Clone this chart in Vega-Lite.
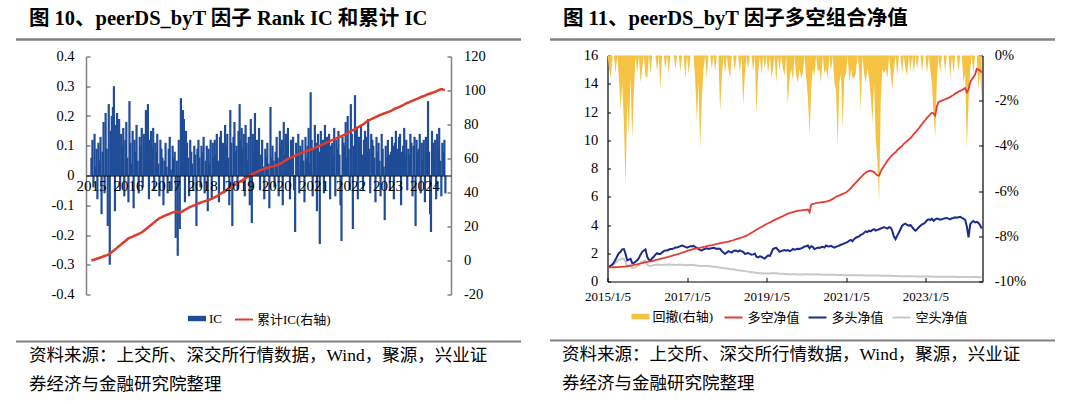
{
"$schema": "https://vega.github.io/schema/vega-lite/v6.json",
"background": "#ffffff",
"padding": {"left": 14, "top": 8.5, "right": 0, "bottom": 0},
"config": {"view": {"stroke": null}, "axis": {"grid": false, "labelFont": "Liberation Serif", "titleFont": "Liberation Serif", "labelOverlap": false}},
"datasets": {
"ic": [
{"d":"2015/1/5","v":0.06},{"d":"2015/1/15","v":0.12},{"d":"2015/1/25","v":-0.04},
{"d":"2015/2/5","v":0.14},{"d":"2015/2/15","v":0.03},{"d":"2015/2/25","v":0.09},
{"d":"2015/3/5","v":-0.08},{"d":"2015/3/15","v":0.11},{"d":"2015/3/25","v":0.05},
{"d":"2015/4/5","v":0.13},{"d":"2015/4/15","v":-0.13},{"d":"2015/4/25","v":0.08},
{"d":"2015/5/5","v":0.18},{"d":"2015/5/15","v":-0.06},{"d":"2015/5/25","v":0.21},
{"d":"2015/6/5","v":0.09},{"d":"2015/6/15","v":-0.17},{"d":"2015/6/25","v":0.24},
{"d":"2015/7/5","v":-0.30},{"d":"2015/7/15","v":0.15},{"d":"2015/7/25","v":0.2},
{"d":"2015/8/5","v":0.23},{"d":"2015/8/15","v":0.30},{"d":"2015/8/25","v":-0.12},
{"d":"2015/9/5","v":0.17},{"d":"2015/9/15","v":0.21},{"d":"2015/9/25","v":0.08},
{"d":"2015/10/5","v":0.19},{"d":"2015/10/15","v":-0.05},{"d":"2015/10/25","v":0.14},
{"d":"2015/11/5","v":0.10},{"d":"2015/11/15","v":0.16},{"d":"2015/11/25","v":-0.07},
{"d":"2015/12/5","v":0.12},{"d":"2015/12/15","v":0.18},{"d":"2015/12/25","v":0.06},
{"d":"2016/1/5","v":-0.09},{"d":"2016/1/15","v":0.25},{"d":"2016/1/25","v":0.11},
{"d":"2016/2/5","v":0.04},{"d":"2016/2/15","v":0.15},{"d":"2016/2/25","v":-0.11},
{"d":"2016/3/5","v":0.12},{"d":"2016/3/15","v":0.08},{"d":"2016/3/25","v":0.17},
{"d":"2016/4/5","v":0.05},{"d":"2016/4/15","v":-0.06},{"d":"2016/4/25","v":0.13},
{"d":"2016/5/5","v":0.10},{"d":"2016/5/15","v":0.16},{"d":"2016/5/25","v":-0.04},
{"d":"2016/6/5","v":0.14},{"d":"2016/6/15","v":0.07},{"d":"2016/6/25","v":0.22},
{"d":"2016/7/5","v":0.18},{"d":"2016/7/15","v":0.24},{"d":"2016/7/25","v":-0.08},
{"d":"2016/8/5","v":0.12},{"d":"2016/8/15","v":0.15},{"d":"2016/8/25","v":0.09},
{"d":"2016/9/5","v":0.16},{"d":"2016/9/15","v":-0.05},{"d":"2016/9/25","v":0.11},
{"d":"2016/10/5","v":0.08},{"d":"2016/10/15","v":0.14},{"d":"2016/10/25","v":0.04},
{"d":"2016/11/5","v":-0.07},{"d":"2016/11/15","v":0.12},{"d":"2016/11/25","v":0.09},
{"d":"2016/12/5","v":0.06},{"d":"2016/12/15","v":-0.1},{"d":"2016/12/25","v":0.05},
{"d":"2017/1/5","v":0.11},{"d":"2017/1/15","v":0.03},{"d":"2017/1/25","v":-0.06},
{"d":"2017/2/5","v":0.09},{"d":"2017/2/15","v":0.13},{"d":"2017/2/25","v":0.02},
{"d":"2017/3/5","v":-0.05},{"d":"2017/3/15","v":0.10},{"d":"2017/3/25","v":0.06},
{"d":"2017/4/5","v":0.08},{"d":"2017/4/15","v":-0.21},{"d":"2017/4/25","v":0.05},
{"d":"2017/5/5","v":-0.27},{"d":"2017/5/15","v":0.12},{"d":"2017/5/25","v":-0.18},
{"d":"2017/6/5","v":0.26},{"d":"2017/6/15","v":0.17},{"d":"2017/6/25","v":0.22},
{"d":"2017/7/5","v":0.19},{"d":"2017/7/15","v":-0.09},{"d":"2017/7/25","v":0.15},
{"d":"2017/8/5","v":0.11},{"d":"2017/8/15","v":0.06},{"d":"2017/8/25","v":-0.07},
{"d":"2017/9/5","v":0.12},{"d":"2017/9/15","v":0.08},{"d":"2017/9/25","v":0.04},
{"d":"2017/10/5","v":-0.05},{"d":"2017/10/15","v":0.1},{"d":"2017/10/25","v":0.07},
{"d":"2017/11/5","v":-0.17},{"d":"2017/11/15","v":0.09},{"d":"2017/11/25","v":0.12},
{"d":"2017/12/5","v":0.06},{"d":"2017/12/15","v":-0.04},{"d":"2017/12/25","v":0.1},
{"d":"2018/1/5","v":0.08},{"d":"2018/1/15","v":0.13},{"d":"2018/1/25","v":-0.06},
{"d":"2018/2/5","v":0.05},{"d":"2018/2/15","v":0.1},{"d":"2018/2/25","v":-0.12},
{"d":"2018/3/5","v":0.09},{"d":"2018/3/15","v":0.04},{"d":"2018/3/25","v":0.12},
{"d":"2018/4/5","v":-0.08},{"d":"2018/4/15","v":0.11},{"d":"2018/4/25","v":0.06},
{"d":"2018/5/5","v":0.12},{"d":"2018/5/15","v":0.07},{"d":"2018/5/25","v":0.14},
{"d":"2018/6/5","v":0.05},{"d":"2018/6/15","v":-0.09},{"d":"2018/6/25","v":0.13},
{"d":"2018/7/5","v":0.15},{"d":"2018/7/15","v":0.09},{"d":"2018/7/25","v":0.11},
{"d":"2018/8/5","v":-0.06},{"d":"2018/8/15","v":0.17},{"d":"2018/8/25","v":0.1},
{"d":"2018/9/5","v":0.14},{"d":"2018/9/15","v":0.06},{"d":"2018/9/25","v":-0.1},
{"d":"2018/10/5","v":0.22},{"d":"2018/10/15","v":0.11},{"d":"2018/10/25","v":-0.17},
{"d":"2018/11/5","v":0.13},{"d":"2018/11/15","v":0.18},{"d":"2018/11/25","v":0.08},
{"d":"2018/12/5","v":0.1},{"d":"2018/12/15","v":-0.05},{"d":"2018/12/25","v":0.15},
{"d":"2019/1/5","v":0.24},{"d":"2019/1/15","v":0.12},{"d":"2019/1/25","v":0.16},
{"d":"2019/2/5","v":0.09},{"d":"2019/2/15","v":0.14},{"d":"2019/2/25","v":-0.07},
{"d":"2019/3/5","v":0.17},{"d":"2019/3/15","v":0.11},{"d":"2019/3/25","v":0.05},
{"d":"2019/4/5","v":0.13},{"d":"2019/4/15","v":-0.1},{"d":"2019/4/25","v":0.19},
{"d":"2019/5/5","v":-0.16},{"d":"2019/5/15","v":0.14},{"d":"2019/5/25","v":0.08},
{"d":"2019/6/5","v":0.21},{"d":"2019/6/15","v":0.07},{"d":"2019/6/25","v":0.12},
{"d":"2019/7/5","v":0.1},{"d":"2019/7/15","v":0.16},{"d":"2019/7/25","v":-0.05},
{"d":"2019/8/5","v":0.07},{"d":"2019/8/15","v":0.12},{"d":"2019/8/25","v":0.03},
{"d":"2019/9/5","v":-0.08},{"d":"2019/9/15","v":0.09},{"d":"2019/9/25","v":0.06},
{"d":"2019/10/5","v":0.11},{"d":"2019/10/15","v":0.04},{"d":"2019/10/25","v":-0.11},
{"d":"2019/11/5","v":0.23},{"d":"2019/11/15","v":0.06},{"d":"2019/11/25","v":0.1},
{"d":"2019/12/5","v":0.05},{"d":"2019/12/15","v":-0.04},{"d":"2019/12/25","v":0.08},
{"d":"2020/1/5","v":0.13},{"d":"2020/1/15","v":0.06},{"d":"2020/1/25","v":-0.07},
{"d":"2020/2/5","v":0.15},{"d":"2020/2/15","v":0.09},{"d":"2020/2/25","v":0.12},
{"d":"2020/3/5","v":-0.1},{"d":"2020/3/15","v":0.18},{"d":"2020/3/25","v":0.07},
{"d":"2020/4/5","v":0.14},{"d":"2020/4/15","v":0.1},{"d":"2020/4/25","v":0.16},
{"d":"2020/5/5","v":0.06},{"d":"2020/5/15","v":-0.08},{"d":"2020/5/25","v":0.12},
{"d":"2020/6/5","v":0.09},{"d":"2020/6/15","v":0.13},{"d":"2020/6/25","v":-0.05},
{"d":"2020/7/5","v":-0.19},{"d":"2020/7/15","v":0.11},{"d":"2020/7/25","v":0.07},
{"d":"2020/8/5","v":0.14},{"d":"2020/8/15","v":-0.06},{"d":"2020/8/25","v":0.1},
{"d":"2020/9/5","v":0.08},{"d":"2020/9/15","v":0.12},{"d":"2020/9/25","v":0.05},
{"d":"2020/10/5","v":-0.09},{"d":"2020/10/15","v":0.13},{"d":"2020/10/25","v":0.06},
{"d":"2020/11/5","v":0.1},{"d":"2020/11/15","v":0.16},{"d":"2020/11/25","v":0.04},
{"d":"2020/12/5","v":0.28},{"d":"2020/12/15","v":0.12},{"d":"2020/12/25","v":-0.07},
{"d":"2021/1/5","v":0.09},{"d":"2021/1/15","v":0.17},{"d":"2021/1/25","v":0.11},
{"d":"2021/2/5","v":-0.12},{"d":"2021/2/15","v":0.14},{"d":"2021/2/25","v":0.08},
{"d":"2021/3/5","v":-0.23},{"d":"2021/3/15","v":0.15},{"d":"2021/3/25","v":0.1},
{"d":"2021/4/5","v":0.12},{"d":"2021/4/15","v":-0.06},{"d":"2021/4/25","v":0.17},
{"d":"2021/5/5","v":0.09},{"d":"2021/5/15","v":0.13},{"d":"2021/5/25","v":0.05},
{"d":"2021/6/5","v":0.14},{"d":"2021/6/15","v":-0.08},{"d":"2021/6/25","v":0.1},
{"d":"2021/7/5","v":0.11},{"d":"2021/7/15","v":0.06},{"d":"2021/7/25","v":0.16},
{"d":"2021/8/5","v":-0.07},{"d":"2021/8/15","v":0.12},{"d":"2021/8/25","v":0.09},
{"d":"2021/9/5","v":0.15},{"d":"2021/9/15","v":0.07},{"d":"2021/9/25","v":-0.1},
{"d":"2021/10/5","v":-0.22},{"d":"2021/10/15","v":0.13},{"d":"2021/10/25","v":0.11},
{"d":"2021/11/5","v":0.1},{"d":"2021/11/15","v":0.18},{"d":"2021/11/25","v":0.06},
{"d":"2021/12/5","v":0.2},{"d":"2021/12/15","v":0.09},{"d":"2021/12/25","v":-0.05},
{"d":"2022/1/5","v":0.24},{"d":"2022/1/15","v":0.14},{"d":"2022/1/25","v":-0.18},
{"d":"2022/2/5","v":0.1},{"d":"2022/2/15","v":0.27},{"d":"2022/2/25","v":0.12},
{"d":"2022/3/5","v":0.16},{"d":"2022/3/15","v":-0.08},{"d":"2022/3/25","v":0.13},
{"d":"2022/4/5","v":0.11},{"d":"2022/4/15","v":0.17},{"d":"2022/4/25","v":0.07},
{"d":"2022/5/5","v":-0.05},{"d":"2022/5/15","v":0.12},{"d":"2022/5/25","v":0.15},
{"d":"2022/6/5","v":0.13},{"d":"2022/6/15","v":0.08},{"d":"2022/6/25","v":0.19},
{"d":"2022/7/5","v":0.09},{"d":"2022/7/15","v":-0.06},{"d":"2022/7/25","v":0.14},
{"d":"2022/8/5","v":0.12},{"d":"2022/8/15","v":0.1},{"d":"2022/8/25","v":0.06},
{"d":"2022/9/5","v":-0.09},{"d":"2022/9/15","v":0.13},{"d":"2022/9/25","v":0.08},
{"d":"2022/10/5","v":0.11},{"d":"2022/10/15","v":0.05},{"d":"2022/10/25","v":-0.07},
{"d":"2022/11/5","v":0.14},{"d":"2022/11/15","v":0.09},{"d":"2022/11/25","v":0.03},
{"d":"2022/12/5","v":-0.15},{"d":"2022/12/15","v":0.1},{"d":"2022/12/25","v":0.06},
{"d":"2023/1/5","v":0.12},{"d":"2023/1/15","v":0.07},{"d":"2023/1/25","v":-0.05},
{"d":"2023/2/5","v":0.08},{"d":"2023/2/15","v":0.13},{"d":"2023/2/25","v":0.1},
{"d":"2023/3/5","v":-0.08},{"d":"2023/3/15","v":0.11},{"d":"2023/3/25","v":0.15},
{"d":"2023/4/5","v":0.09},{"d":"2023/4/15","v":0.05},{"d":"2023/4/25","v":0.13},
{"d":"2023/5/5","v":0.14},{"d":"2023/5/15","v":-0.1},{"d":"2023/5/25","v":0.08},
{"d":"2023/6/5","v":0.1},{"d":"2023/6/15","v":0.16},{"d":"2023/6/25","v":0.06},
{"d":"2023/7/5","v":0.12},{"d":"2023/7/15","v":-0.05},{"d":"2023/7/25","v":0.09},
{"d":"2023/8/5","v":0.07},{"d":"2023/8/15","v":0.14},{"d":"2023/8/25","v":0.11},
{"d":"2023/9/5","v":-0.07},{"d":"2023/9/15","v":0.1},{"d":"2023/9/25","v":0.13},
{"d":"2023/10/5","v":-0.17},{"d":"2023/10/15","v":0.12},{"d":"2023/10/25","v":0.08},
{"d":"2023/11/5","v":0.09},{"d":"2023/11/15","v":0.14},{"d":"2023/11/25","v":-0.06},
{"d":"2023/12/5","v":0.11},{"d":"2023/12/15","v":0.05},{"d":"2023/12/25","v":0.12},
{"d":"2024/1/5","v":-0.09},{"d":"2024/1/15","v":0.13},{"d":"2024/1/25","v":0.1},
{"d":"2024/2/5","v":0.25},{"d":"2024/2/15","v":0.08},{"d":"2024/2/25","v":-0.13},
{"d":"2024/3/5","v":-0.19},{"d":"2024/3/15","v":0.15},{"d":"2024/3/25","v":0.11},
{"d":"2024/4/5","v":0.06},{"d":"2024/4/15","v":0.12},{"d":"2024/4/25","v":-0.08},
{"d":"2024/5/5","v":0.14},{"d":"2024/5/15","v":0.09},{"d":"2024/5/25","v":0.16},
{"d":"2024/6/5","v":0.05},{"d":"2024/6/15","v":-0.07},{"d":"2024/6/25","v":0.11},
{"d":"2024/7/5","v":0.08},{"d":"2024/7/15","v":0.12},{"d":"2024/7/25","v":-0.06}
],
"nav": [
{"d":"2015/1/5","c":0,"ls":1.00,"lo":1.00,"sh":1.00,"dd":0},
{"d":"2015/1/20","c":0.3,"ls":1.00,"lo":1.06,"sh":1.04,"dd":-0.006},
{"d":"2015/2/5","c":0.6,"ls":1.00,"lo":1.12,"sh":1.08,"dd":-0.01},
{"d":"2015/2/20","c":0.9,"ls":1.00,"lo":1.22,"sh":1.15,"dd":0},
{"d":"2015/3/5","c":1.2,"ls":1.01,"lo":1.35,"sh":1.22,"dd":0},
{"d":"2015/3/20","c":1.5,"ls":1.01,"lo":1.55,"sh":1.32,"dd":-0.008},
{"d":"2015/4/5","c":1.8,"ls":1.02,"lo":1.80,"sh":1.45,"dd":0},
{"d":"2015/4/20","c":2.1,"ls":1.02,"lo":2.00,"sh":1.55,"dd":-0.01},
{"d":"2015/5/5","c":2.5,"ls":1.03,"lo":2.10,"sh":1.55,"dd":-0.024},
{"d":"2015/5/20","c":2.8,"ls":1.04,"lo":2.28,"sh":1.62,"dd":-0.012},
{"d":"2015/6/5","c":3.0,"ls":1.05,"lo":2.30,"sh":1.60,"dd":-0.03},
{"d":"2015/6/20","c":3.4,"ls":1.06,"lo":1.95,"sh":1.35,"dd":-0.058},
{"d":"2015/7/5","c":4.0,"ls":1.08,"lo":1.50,"sh":1.10,"dd":-0.02},
{"d":"2015/7/20","c":4.7,"ls":1.10,"lo":1.55,"sh":1.12,"dd":-0.035},
{"d":"2015/8/5","c":5.5,"ls":1.12,"lo":1.60,"sh":1.15,"dd":-0.01},
{"d":"2015/8/20","c":6.2,"ls":1.14,"lo":1.30,"sh":0.98,"dd":-0.037},
{"d":"2015/9/5","c":7.0,"ls":1.17,"lo":1.32,"sh":0.98,"dd":-0.015},
{"d":"2015/9/20","c":7.7,"ls":1.19,"lo":1.40,"sh":1.02,"dd":0},
{"d":"2015/10/5","c":8.5,"ls":1.22,"lo":1.50,"sh":1.08,"dd":-0.008},
{"d":"2015/10/20","c":9.2,"ls":1.25,"lo":1.65,"sh":1.15,"dd":0},
{"d":"2015/11/5","c":10.0,"ls":1.28,"lo":1.90,"sh":1.30,"dd":-0.012},
{"d":"2015/11/20","c":10.7,"ls":1.30,"lo":2.10,"sh":1.40,"dd":-0.006},
{"d":"2015/12/5","c":11.5,"ls":1.33,"lo":2.20,"sh":1.45,"dd":0},
{"d":"2015/12/20","c":12.2,"ls":1.36,"lo":2.28,"sh":1.48,"dd":-0.009},
{"d":"2016/1/5","c":13.0,"ls":1.39,"lo":1.75,"sh":1.20,"dd":-0.01},
{"d":"2016/1/20","c":13.4,"ls":1.41,"lo":1.55,"sh":1.12,"dd":0},
{"d":"2016/2/5","c":13.8,"ls":1.43,"lo":1.50,"sh":1.10,"dd":-0.008},
{"d":"2016/2/20","c":14.2,"ls":1.45,"lo":1.65,"sh":1.14,"dd":0},
{"d":"2016/3/5","c":14.6,"ls":1.48,"lo":1.75,"sh":1.16,"dd":0},
{"d":"2016/3/20","c":15.0,"ls":1.51,"lo":1.90,"sh":1.18,"dd":0},
{"d":"2016/4/5","c":15.4,"ls":1.54,"lo":2.00,"sh":1.20,"dd":-0.007},
{"d":"2016/4/20","c":15.8,"ls":1.57,"lo":1.95,"sh":1.18,"dd":0},
{"d":"2016/5/5","c":16.2,"ls":1.60,"lo":1.95,"sh":1.16,"dd":-0.015},
{"d":"2016/5/20","c":16.8,"ls":1.63,"lo":2.05,"sh":1.17,"dd":0},
{"d":"2016/6/5","c":17.5,"ls":1.66,"lo":2.15,"sh":1.18,"dd":0},
{"d":"2016/6/20","c":18.2,"ls":1.69,"lo":2.20,"sh":1.18,"dd":-0.006},
{"d":"2016/7/5","c":19.0,"ls":1.72,"lo":2.20,"sh":1.19,"dd":0},
{"d":"2016/7/20","c":19.7,"ls":1.75,"lo":2.25,"sh":1.20,"dd":-0.008},
{"d":"2016/8/5","c":20.5,"ls":1.79,"lo":2.30,"sh":1.20,"dd":0},
{"d":"2016/8/20","c":21.2,"ls":1.82,"lo":2.30,"sh":1.19,"dd":0},
{"d":"2016/9/5","c":22.0,"ls":1.86,"lo":2.35,"sh":1.18,"dd":0},
{"d":"2016/9/20","c":22.7,"ls":1.89,"lo":2.40,"sh":1.18,"dd":-0.006},
{"d":"2016/10/5","c":23.5,"ls":1.93,"lo":2.40,"sh":1.17,"dd":0},
{"d":"2016/10/20","c":24.1,"ls":1.96,"lo":2.45,"sh":1.18,"dd":0},
{"d":"2016/11/5","c":24.8,"ls":2.00,"lo":2.50,"sh":1.18,"dd":-0.007},
{"d":"2016/11/20","c":25.2,"ls":2.04,"lo":2.55,"sh":1.19,"dd":0},
{"d":"2016/12/5","c":25.7,"ls":2.08,"lo":2.50,"sh":1.17,"dd":0},
{"d":"2016/12/20","c":26.1,"ls":2.12,"lo":2.45,"sh":1.15,"dd":-0.01},
{"d":"2017/1/5","c":26.5,"ls":2.17,"lo":2.40,"sh":1.16,"dd":0},
{"d":"2017/1/20","c":26.9,"ls":2.20,"lo":2.45,"sh":1.17,"dd":-0.008},
{"d":"2017/2/5","c":27.3,"ls":2.24,"lo":2.50,"sh":1.18,"dd":0},
{"d":"2017/2/20","c":27.7,"ls":2.27,"lo":2.48,"sh":1.17,"dd":0},
{"d":"2017/3/5","c":28.0,"ls":2.30,"lo":2.52,"sh":1.16,"dd":0},
{"d":"2017/3/20","c":28.3,"ls":2.33,"lo":2.45,"sh":1.15,"dd":-0.009},
{"d":"2017/4/5","c":28.6,"ls":2.35,"lo":2.38,"sh":1.14,"dd":-0.029},
{"d":"2017/4/20","c":28.7,"ls":2.37,"lo":2.30,"sh":1.12,"dd":-0.012},
{"d":"2017/5/5","c":28.6,"ls":2.40,"lo":2.22,"sh":1.10,"dd":-0.041},
{"d":"2017/5/20","c":28.5,"ls":2.42,"lo":2.20,"sh":1.09,"dd":-0.02},
{"d":"2017/6/5","c":28.4,"ls":2.45,"lo":2.28,"sh":1.10,"dd":-0.006},
{"d":"2017/6/20","c":28.9,"ls":2.47,"lo":2.32,"sh":1.11,"dd":0},
{"d":"2017/7/5","c":29.5,"ls":2.50,"lo":2.35,"sh":1.10,"dd":-0.01},
{"d":"2017/7/20","c":30.0,"ls":2.52,"lo":2.30,"sh":1.09,"dd":0},
{"d":"2017/8/5","c":30.5,"ls":2.55,"lo":2.33,"sh":1.08,"dd":0},
{"d":"2017/8/20","c":31.0,"ls":2.57,"lo":2.36,"sh":1.06,"dd":-0.006},
{"d":"2017/9/5","c":31.5,"ls":2.60,"lo":2.38,"sh":1.05,"dd":0},
{"d":"2017/9/20","c":31.9,"ls":2.63,"lo":2.35,"sh":1.04,"dd":-0.007},
{"d":"2017/10/5","c":32.3,"ls":2.66,"lo":2.30,"sh":1.02,"dd":0},
{"d":"2017/10/20","c":32.6,"ls":2.68,"lo":2.33,"sh":1.00,"dd":0},
{"d":"2017/11/5","c":33.0,"ls":2.71,"lo":2.30,"sh":0.98,"dd":-0.025},
{"d":"2017/11/20","c":33.4,"ls":2.73,"lo":2.15,"sh":0.96,"dd":-0.01},
{"d":"2017/12/5","c":33.8,"ls":2.76,"lo":2.05,"sh":0.95,"dd":0},
{"d":"2017/12/20","c":34.1,"ls":2.78,"lo":1.95,"sh":0.93,"dd":-0.008},
{"d":"2018/1/5","c":34.5,"ls":2.80,"lo":2.05,"sh":0.92,"dd":0},
{"d":"2018/1/20","c":34.8,"ls":2.83,"lo":2.15,"sh":0.90,"dd":-0.006},
{"d":"2018/2/5","c":35.0,"ls":2.86,"lo":2.10,"sh":0.88,"dd":-0.01},
{"d":"2018/2/20","c":35.3,"ls":2.89,"lo":2.05,"sh":0.87,"dd":0},
{"d":"2018/3/5","c":35.5,"ls":2.92,"lo":2.15,"sh":0.86,"dd":0},
{"d":"2018/3/20","c":35.9,"ls":2.96,"lo":2.20,"sh":0.84,"dd":-0.007},
{"d":"2018/4/5","c":36.3,"ls":3.00,"lo":2.18,"sh":0.82,"dd":0},
{"d":"2018/4/20","c":36.8,"ls":3.04,"lo":2.12,"sh":0.80,"dd":0},
{"d":"2018/5/5","c":37.2,"ls":3.08,"lo":2.20,"sh":0.78,"dd":-0.008},
{"d":"2018/5/20","c":37.7,"ls":3.11,"lo":2.15,"sh":0.77,"dd":0},
{"d":"2018/6/5","c":38.2,"ls":3.15,"lo":2.10,"sh":0.75,"dd":-0.022},
{"d":"2018/6/20","c":38.8,"ls":3.20,"lo":1.95,"sh":0.73,"dd":-0.009},
{"d":"2018/7/5","c":39.4,"ls":3.25,"lo":1.98,"sh":0.72,"dd":0},
{"d":"2018/7/20","c":40.0,"ls":3.31,"lo":2.02,"sh":0.70,"dd":-0.006},
{"d":"2018/8/5","c":40.5,"ls":3.38,"lo":1.95,"sh":0.68,"dd":0},
{"d":"2018/8/20","c":41.0,"ls":3.45,"lo":1.90,"sh":0.66,"dd":0},
{"d":"2018/9/5","c":41.6,"ls":3.52,"lo":1.92,"sh":0.65,"dd":-0.007},
{"d":"2018/9/20","c":42.2,"ls":3.59,"lo":1.98,"sh":0.63,"dd":0},
{"d":"2018/10/5","c":42.8,"ls":3.66,"lo":1.75,"sh":0.61,"dd":-0.026},
{"d":"2018/10/20","c":43.4,"ls":3.73,"lo":1.70,"sh":0.60,"dd":-0.008},
{"d":"2018/11/5","c":44.0,"ls":3.80,"lo":1.78,"sh":0.59,"dd":0},
{"d":"2018/11/20","c":44.6,"ls":3.86,"lo":1.75,"sh":0.58,"dd":-0.009},
{"d":"2018/12/5","c":45.2,"ls":3.93,"lo":1.68,"sh":0.57,"dd":0},
{"d":"2018/12/20","c":45.8,"ls":4.00,"lo":1.62,"sh":0.56,"dd":-0.006},
{"d":"2019/1/5","c":46.3,"ls":4.07,"lo":1.75,"sh":0.56,"dd":0},
{"d":"2019/1/20","c":46.8,"ls":4.12,"lo":1.85,"sh":0.57,"dd":-0.008},
{"d":"2019/2/5","c":47.4,"ls":4.18,"lo":1.80,"sh":0.56,"dd":0},
{"d":"2019/2/20","c":47.9,"ls":4.24,"lo":2.05,"sh":0.58,"dd":-0.01},
{"d":"2019/3/5","c":48.5,"ls":4.30,"lo":2.30,"sh":0.60,"dd":-0.006},
{"d":"2019/3/20","c":49.0,"ls":4.36,"lo":2.35,"sh":0.59,"dd":0},
{"d":"2019/4/5","c":49.6,"ls":4.42,"lo":2.38,"sh":0.58,"dd":-0.012},
{"d":"2019/4/20","c":50.1,"ls":4.47,"lo":2.25,"sh":0.56,"dd":0},
{"d":"2019/5/5","c":50.6,"ls":4.52,"lo":2.10,"sh":0.55,"dd":-0.007},
{"d":"2019/5/20","c":51.1,"ls":4.57,"lo":2.15,"sh":0.54,"dd":0},
{"d":"2019/6/5","c":51.6,"ls":4.63,"lo":2.20,"sh":0.54,"dd":-0.006},
{"d":"2019/6/20","c":52.0,"ls":4.69,"lo":2.22,"sh":0.53,"dd":-0.009},
{"d":"2019/7/5","c":52.5,"ls":4.75,"lo":2.18,"sh":0.53,"dd":0},
{"d":"2019/7/20","c":52.9,"ls":4.80,"lo":2.22,"sh":0.52,"dd":-0.022},
{"d":"2019/8/5","c":53.3,"ls":4.84,"lo":2.15,"sh":0.52,"dd":-0.01},
{"d":"2019/8/20","c":53.6,"ls":4.88,"lo":2.20,"sh":0.51,"dd":-0.006},
{"d":"2019/9/5","c":54.0,"ls":4.92,"lo":2.30,"sh":0.52,"dd":-0.011},
{"d":"2019/9/20","c":54.3,"ls":4.95,"lo":2.25,"sh":0.51,"dd":0},
{"d":"2019/10/5","c":54.6,"ls":4.98,"lo":2.28,"sh":0.51,"dd":-0.009},
{"d":"2019/10/20","c":54.8,"ls":5.00,"lo":2.32,"sh":0.50,"dd":-0.012},
{"d":"2019/11/5","c":55.0,"ls":5.02,"lo":2.30,"sh":0.50,"dd":-0.006},
{"d":"2019/11/20","c":55.2,"ls":5.04,"lo":2.35,"sh":0.50,"dd":-0.01},
{"d":"2019/12/5","c":55.5,"ls":5.06,"lo":2.40,"sh":0.51,"dd":-0.008},
{"d":"2019/12/20","c":55.7,"ls":5.07,"lo":2.48,"sh":0.51,"dd":0},
{"d":"2020/1/5","c":56.0,"ls":5.08,"lo":2.50,"sh":0.51,"dd":-0.01},
{"d":"2020/1/20","c":56.4,"ls":5.10,"lo":2.55,"sh":0.52,"dd":-0.018},
{"d":"2020/2/5","c":56.8,"ls":4.90,"lo":2.35,"sh":0.50,"dd":-0.035},
{"d":"2020/2/20","c":57.3,"ls":5.45,"lo":2.50,"sh":0.51,"dd":-0.015},
{"d":"2020/3/5","c":57.8,"ls":5.50,"lo":2.45,"sh":0.50,"dd":-0.006},
{"d":"2020/3/20","c":58.4,"ls":5.52,"lo":2.30,"sh":0.49,"dd":-0.009},
{"d":"2020/4/5","c":59.0,"ls":5.55,"lo":2.35,"sh":0.49,"dd":0},
{"d":"2020/4/20","c":59.5,"ls":5.56,"lo":2.40,"sh":0.50,"dd":-0.007},
{"d":"2020/5/5","c":60.0,"ls":5.58,"lo":2.38,"sh":0.49,"dd":-0.006},
{"d":"2020/5/20","c":60.4,"ls":5.60,"lo":2.42,"sh":0.49,"dd":-0.012},
{"d":"2020/6/5","c":60.8,"ls":5.62,"lo":2.45,"sh":0.48,"dd":0},
{"d":"2020/6/20","c":61.2,"ls":5.64,"lo":2.40,"sh":0.48,"dd":-0.008},
{"d":"2020/7/5","c":61.7,"ls":5.66,"lo":2.55,"sh":0.49,"dd":-0.006},
{"d":"2020/7/20","c":62.1,"ls":5.69,"lo":2.50,"sh":0.48,"dd":-0.01},
{"d":"2020/8/5","c":62.5,"ls":5.72,"lo":2.48,"sh":0.48,"dd":0},
{"d":"2020/8/20","c":62.9,"ls":5.78,"lo":2.52,"sh":0.47,"dd":-0.007},
{"d":"2020/9/5","c":63.3,"ls":5.85,"lo":2.45,"sh":0.47,"dd":0},
{"d":"2020/9/20","c":63.6,"ls":5.92,"lo":2.40,"sh":0.47,"dd":-0.012},
{"d":"2020/10/5","c":64.0,"ls":6.00,"lo":2.45,"sh":0.47,"dd":-0.015},
{"d":"2020/10/20","c":64.3,"ls":6.05,"lo":2.50,"sh":0.46,"dd":-0.04},
{"d":"2020/11/5","c":64.7,"ls":6.10,"lo":2.55,"sh":0.46,"dd":-0.012},
{"d":"2020/11/20","c":65.0,"ls":6.15,"lo":2.60,"sh":0.46,"dd":-0.008},
{"d":"2020/12/5","c":65.3,"ls":6.20,"lo":2.65,"sh":0.46,"dd":-0.032},
{"d":"2020/12/20","c":65.6,"ls":6.25,"lo":2.70,"sh":0.45,"dd":-0.01},
{"d":"2021/1/5","c":66.0,"ls":6.30,"lo":2.75,"sh":0.45,"dd":-0.008},
{"d":"2021/1/20","c":66.4,"ls":6.40,"lo":2.80,"sh":0.45,"dd":0},
{"d":"2021/2/5","c":66.8,"ls":6.50,"lo":2.90,"sh":0.44,"dd":-0.012},
{"d":"2021/2/20","c":67.2,"ls":6.62,"lo":2.95,"sh":0.44,"dd":-0.006},
{"d":"2021/3/5","c":67.5,"ls":6.75,"lo":2.85,"sh":0.44,"dd":-0.01},
{"d":"2021/3/20","c":67.9,"ls":6.88,"lo":3.00,"sh":0.45,"dd":-0.01},
{"d":"2021/4/5","c":68.3,"ls":7.00,"lo":3.10,"sh":0.45,"dd":-0.008},
{"d":"2021/4/20","c":68.8,"ls":7.12,"lo":3.15,"sh":0.44,"dd":0},
{"d":"2021/5/5","c":69.2,"ls":7.25,"lo":3.20,"sh":0.44,"dd":-0.006},
{"d":"2021/5/20","c":69.6,"ls":7.38,"lo":3.30,"sh":0.44,"dd":-0.024},
{"d":"2021/6/5","c":70.0,"ls":7.50,"lo":3.35,"sh":0.44,"dd":0},
{"d":"2021/6/20","c":70.4,"ls":7.62,"lo":3.45,"sh":0.43,"dd":-0.008},
{"d":"2021/7/5","c":70.8,"ls":7.70,"lo":3.55,"sh":0.43,"dd":-0.012},
{"d":"2021/7/20","c":71.2,"ls":7.78,"lo":3.50,"sh":0.43,"dd":-0.006},
{"d":"2021/8/5","c":71.6,"ls":7.82,"lo":3.60,"sh":0.43,"dd":-0.01},
{"d":"2021/8/20","c":72.0,"ls":7.85,"lo":3.55,"sh":0.42,"dd":-0.018},
{"d":"2021/9/5","c":72.4,"ls":7.80,"lo":3.65,"sh":0.42,"dd":-0.03},
{"d":"2021/9/20","c":72.8,"ls":7.75,"lo":3.70,"sh":0.42,"dd":-0.012},
{"d":"2021/10/5","c":73.2,"ls":7.60,"lo":3.60,"sh":0.42,"dd":-0.037},
{"d":"2021/10/20","c":73.6,"ls":7.52,"lo":3.65,"sh":0.42,"dd":-0.046},
{"d":"2021/11/5","c":74.0,"ls":7.50,"lo":3.70,"sh":0.42,"dd":-0.065},
{"d":"2021/11/20","c":74.5,"ls":7.80,"lo":3.75,"sh":0.41,"dd":-0.02},
{"d":"2021/12/5","c":75.0,"ls":8.00,"lo":3.80,"sh":0.41,"dd":-0.006},
{"d":"2021/12/20","c":75.5,"ls":8.20,"lo":3.85,"sh":0.41,"dd":-0.008},
{"d":"2022/1/5","c":76.0,"ls":8.35,"lo":3.80,"sh":0.41,"dd":-0.006},
{"d":"2022/1/20","c":76.5,"ls":8.55,"lo":3.75,"sh":0.40,"dd":-0.01},
{"d":"2022/2/5","c":77.0,"ls":8.70,"lo":3.85,"sh":0.40,"dd":0},
{"d":"2022/2/20","c":77.5,"ls":8.85,"lo":3.80,"sh":0.40,"dd":-0.008},
{"d":"2022/3/5","c":78.0,"ls":8.95,"lo":3.60,"sh":0.39,"dd":-0.015},
{"d":"2022/3/20","c":78.5,"ls":9.05,"lo":3.20,"sh":0.39,"dd":-0.007},
{"d":"2022/4/5","c":79.0,"ls":9.15,"lo":3.00,"sh":0.39,"dd":0},
{"d":"2022/4/20","c":79.5,"ls":9.30,"lo":3.25,"sh":0.39,"dd":-0.009},
{"d":"2022/5/5","c":80.0,"ls":9.40,"lo":3.45,"sh":0.39,"dd":0},
{"d":"2022/5/20","c":80.7,"ls":9.50,"lo":3.70,"sh":0.38,"dd":0},
{"d":"2022/6/5","c":81.5,"ls":9.60,"lo":3.95,"sh":0.38,"dd":-0.008},
{"d":"2022/6/20","c":82.1,"ls":9.75,"lo":4.05,"sh":0.38,"dd":0},
{"d":"2022/7/5","c":82.6,"ls":9.85,"lo":4.10,"sh":0.38,"dd":-0.006},
{"d":"2022/7/20","c":83.0,"ls":9.95,"lo":4.00,"sh":0.37,"dd":-0.009},
{"d":"2022/8/5","c":83.5,"ls":10.05,"lo":3.95,"sh":0.37,"dd":0},
{"d":"2022/8/20","c":83.9,"ls":10.15,"lo":4.00,"sh":0.37,"dd":-0.007},
{"d":"2022/9/5","c":84.3,"ls":10.30,"lo":3.85,"sh":0.37,"dd":0},
{"d":"2022/9/20","c":84.7,"ls":10.45,"lo":3.70,"sh":0.37,"dd":-0.008},
{"d":"2022/10/5","c":85.2,"ls":10.55,"lo":3.60,"sh":0.36,"dd":0},
{"d":"2022/10/20","c":85.6,"ls":10.70,"lo":3.70,"sh":0.36,"dd":-0.006},
{"d":"2022/11/5","c":86.0,"ls":10.85,"lo":3.85,"sh":0.36,"dd":0},
{"d":"2022/11/20","c":86.3,"ls":11.00,"lo":3.95,"sh":0.36,"dd":0},
{"d":"2022/12/5","c":86.6,"ls":11.15,"lo":4.05,"sh":0.36,"dd":-0.007},
{"d":"2022/12/20","c":87.0,"ls":11.30,"lo":4.10,"sh":0.36,"dd":0},
{"d":"2023/1/5","c":87.3,"ls":11.45,"lo":4.20,"sh":0.35,"dd":0},
{"d":"2023/1/20","c":87.6,"ls":11.60,"lo":4.35,"sh":0.35,"dd":-0.008},
{"d":"2023/2/5","c":88.0,"ls":11.70,"lo":4.40,"sh":0.35,"dd":0},
{"d":"2023/2/20","c":88.5,"ls":11.85,"lo":4.35,"sh":0.35,"dd":-0.007},
{"d":"2023/3/5","c":89.0,"ls":11.95,"lo":4.45,"sh":0.35,"dd":-0.012},
{"d":"2023/3/20","c":89.4,"ls":11.90,"lo":4.30,"sh":0.34,"dd":-0.026},
{"d":"2023/4/5","c":89.8,"ls":11.75,"lo":4.40,"sh":0.34,"dd":-0.036},
{"d":"2023/4/20","c":90.1,"ls":12.40,"lo":4.45,"sh":0.34,"dd":-0.01},
{"d":"2023/5/5","c":90.5,"ls":12.70,"lo":4.42,"sh":0.34,"dd":0},
{"d":"2023/5/20","c":91.0,"ls":12.75,"lo":4.38,"sh":0.34,"dd":-0.008},
{"d":"2023/6/5","c":91.4,"ls":12.80,"lo":4.40,"sh":0.34,"dd":0},
{"d":"2023/6/20","c":91.9,"ls":12.85,"lo":4.45,"sh":0.33,"dd":0},
{"d":"2023/7/5","c":92.4,"ls":12.90,"lo":4.48,"sh":0.33,"dd":-0.007},
{"d":"2023/7/20","c":92.8,"ls":12.95,"lo":4.50,"sh":0.33,"dd":0},
{"d":"2023/8/5","c":93.2,"ls":13.00,"lo":4.45,"sh":0.33,"dd":0},
{"d":"2023/8/20","c":93.6,"ls":13.05,"lo":4.40,"sh":0.33,"dd":-0.01},
{"d":"2023/9/5","c":94.0,"ls":13.15,"lo":4.48,"sh":0.33,"dd":0},
{"d":"2023/9/20","c":94.4,"ls":13.20,"lo":4.50,"sh":0.33,"dd":-0.008},
{"d":"2023/10/5","c":94.8,"ls":13.30,"lo":4.55,"sh":0.33,"dd":0},
{"d":"2023/10/20","c":95.1,"ls":13.35,"lo":4.52,"sh":0.32,"dd":0},
{"d":"2023/11/5","c":95.5,"ls":13.45,"lo":4.55,"sh":0.32,"dd":-0.007},
{"d":"2023/11/20","c":95.9,"ls":13.50,"lo":4.58,"sh":0.32,"dd":0},
{"d":"2023/12/5","c":96.3,"ls":13.55,"lo":4.50,"sh":0.32,"dd":0},
{"d":"2023/12/20","c":96.6,"ls":13.62,"lo":4.45,"sh":0.32,"dd":-0.012},
{"d":"2024/1/5","c":97.0,"ls":13.70,"lo":4.35,"sh":0.32,"dd":-0.008},
{"d":"2024/1/20","c":97.4,"ls":13.40,"lo":3.90,"sh":0.31,"dd":-0.041},
{"d":"2024/2/5","c":97.8,"ls":13.60,"lo":3.12,"sh":0.30,"dd":-0.02},
{"d":"2024/2/20","c":98.1,"ls":14.10,"lo":4.05,"sh":0.31,"dd":-0.006},
{"d":"2024/3/5","c":98.4,"ls":14.30,"lo":4.20,"sh":0.31,"dd":0},
{"d":"2024/3/20","c":98.7,"ls":14.45,"lo":4.28,"sh":0.31,"dd":-0.008},
{"d":"2024/4/5","c":99.0,"ls":14.65,"lo":4.18,"sh":0.31,"dd":0},
{"d":"2024/4/20","c":99.4,"ls":15.05,"lo":4.22,"sh":0.31,"dd":0},
{"d":"2024/5/5","c":99.8,"ls":15.00,"lo":4.15,"sh":0.30,"dd":-0.015},
{"d":"2024/5/20","c":100.2,"ls":14.95,"lo":4.00,"sh":0.30,"dd":-0.007},
{"d":"2024/6/5","c":100.6,"ls":14.80,"lo":3.75,"sh":0.30,"dd":-0.019},
{"d":"2024/6/20","c":100.8},
{"d":"2024/7/5","c":100.5},
{"d":"2024/7/20","c":100.3}
]
},
"spacing": 25,
"resolve": {"scale": {"color": "independent", "stroke": "independent"}, "legend": {"color": "independent", "stroke": "independent"}},
"hconcat": [
{
"spacing": 17,
"center": true,
"bounds": "flush",
"resolve": {"scale": {"color": "independent", "stroke": "independent"}, "legend": {"color": "independent", "stroke": "independent"}},
"vconcat": [
{
"width": 505, "height": 1,
"title": {"text": "图 10、peerDS_byT 因子 Rank IC 和累计 IC", "anchor": "start", "frame": "group", "dx": 13, "offset": 9, "fontSize": 20.5, "fontWeight": "bold", "font": "Liberation Serif, Noto Sans CJK SC", "color": "#000000"},
"data": {"values": [{}]},
"mark": {"type": "rule", "color": "#808080", "strokeWidth": 2.5},
"encoding": {"y": {"datum": 0, "type": "quantitative", "scale": {"domain": [0, 1]}, "axis": null}}
},
{
"width": 365, "height": 238,
"layer": [
{
"data": {"name": "ic"},
"mark": {"type": "bar", "size": 2.2},
"encoding": {
"x": {"field": "d", "type": "temporal",
 "scale": {"domain": [{"year": 2015, "month": 1, "date": 1}, {"year": 2024, "month": 7, "date": 31}]},
 "axis": {"orient": "bottom", "offset": -119, "title": null, "format": "%Y", "labelFlush": false, "ticks": false,
  "values": [{"year": 2015, "month": 1, "date": 1}, {"year": 2016, "month": 1, "date": 1}, {"year": 2017, "month": 1, "date": 1}, {"year": 2018, "month": 1, "date": 1}, {"year": 2019, "month": 1, "date": 1}, {"year": 2020, "month": 1, "date": 1}, {"year": 2021, "month": 1, "date": 1}, {"year": 2022, "month": 1, "date": 1}, {"year": 2023, "month": 1, "date": 1}, {"year": 2024, "month": 1, "date": 1}],
  "domainColor": "#000000", "domainWidth": 1.2, "labelFontSize": 15, "labelColor": "#000000", "labelPadding": 3, "zindex": 1}},
"y": {"field": "v", "type": "quantitative", "scale": {"domain": [-0.4, 0.4]},
 "axis": {"orient": "left", "title": null, "values": [-0.4, -0.3, -0.2, -0.1, 0, 0.1, 0.2, 0.3, 0.4],
  "labelExpr": "datum.value == 0 ? '0' : (datum.value < 0 ? '-' : '') + format(abs(datum.value), '.1f')",
  "domainColor": "#808080", "domainWidth": 1.5, "tickColor": "#808080", "tickWidth": 1.5, "tickSize": -4, "labelPadding": 16, "labelFontSize": 14.5, "labelColor": "#000000"}},
"color": {"datum": "IC", "type": "nominal", "scale": {"range": ["#1F4C96"]},
 "legend": {"orient": "none", "legendX": 97, "legendY": 248, "title": null, "symbolType": "M-1,-0.3H1V0.3H-1Z", "symbolSize": 324, "symbolStrokeWidth": 0, "labelFontSize": 13, "labelFont": "Liberation Serif, Noto Sans CJK SC", "labelColor": "#000000", "labelOffset": 3, "padding": 5}}
}
},
{
"data": {"name": "nav"},
"mark": {"type": "line", "strokeWidth": 2.5},
"encoding": {
"x": {"field": "d", "type": "temporal"},
"y": {"field": "c", "type": "quantitative", "scale": {"domain": [-20, 120]},
 "axis": {"orient": "right", "title": null, "values": [-20, 0, 20, 40, 60, 80, 100, 120],
  "labelExpr": "(datum.value < 0 ? '-' : '') + abs(datum.value)",
  "domainColor": "#808080", "domainWidth": 1.5, "tickColor": "#808080", "tickWidth": 1.5, "tickSize": -4, "labelPadding": 16.5, "labelFontSize": 14.5, "labelColor": "#000000"}},
"stroke": {"datum": "累计IC(右轴)", "type": "nominal", "scale": {"range": ["#E0392D"]},
 "legend": {"orient": "none", "legendX": 143, "legendY": 248, "title": null, "symbolType": "stroke", "symbolSize": 324, "symbolStrokeWidth": 2, "labelFontSize": 13, "labelFont": "Liberation Serif, Noto Sans CJK SC", "labelColor": "#000000", "labelOffset": 3, "padding": 5}}
}
}
],
"resolve": {"scale": {"y": "independent"}}
},
{
"width": 505, "height": 30,
"title": {"text": ["资料来源：上交所、深交所行情数据，Wind，聚源，兴业证", "券经济与金融研究院整理"], "orient": "bottom", "anchor": "start", "frame": "group", "dx": 13, "offset": 4, "fontSize": 17.5, "fontWeight": "normal", "lineHeight": 29, "baseline": "top", "font": "Liberation Serif, Noto Sans CJK SC", "color": "#000000"},
"data": {"values": [{}]},
"mark": {"type": "rule", "color": "#808080", "strokeWidth": 2},
"encoding": {"y": {"datum": 0, "type": "quantitative", "scale": {"domain": [0, 1]}, "axis": null}}
}
]
},
{
"spacing": 16,
"center": true,
"bounds": "flush",
"resolve": {"scale": {"color": "independent", "stroke": "independent"}, "legend": {"color": "independent", "stroke": "independent"}},
"vconcat": [
{
"width": 490, "height": 1,
"title": {"text": "图 11、peerDS_byT 因子多空组合净值", "anchor": "start", "frame": "group", "dx": 13, "offset": 9, "fontSize": 20.5, "fontWeight": "bold", "font": "Liberation Serif, Noto Sans CJK SC", "color": "#000000"},
"data": {"values": [{}]},
"mark": {"type": "rule", "color": "#808080", "strokeWidth": 2.5},
"encoding": {
"x": {"datum": 0, "type": "quantitative", "scale": {"domain": [0, 490]}, "axis": null},
"x2": {"datum": 505},
"y": {"datum": 0, "type": "quantitative", "scale": {"domain": [0, 1]}, "axis": null}}
},
{
"width": 375, "height": 226,
"layer": [
{
"data": {"name": "nav"},
"mark": {"type": "area", "opacity": 1},
"encoding": {
"x": {"field": "d", "type": "temporal",
 "scale": {"domain": [{"year": 2015, "month": 1, "date": 5}, {"year": 2024, "month": 6, "date": 12}]},
 "axis": {"orient": "bottom", "title": null, "format": "%Y/%-m/%-d", "labelFlush": false,
  "values": [{"year": 2015, "month": 1, "date": 5}, {"year": 2017, "month": 1, "date": 5}, {"year": 2019, "month": 1, "date": 5}, {"year": 2021, "month": 1, "date": 5}, {"year": 2023, "month": 1, "date": 5}],
  "domainColor": "#000000", "domainWidth": 1.2, "tickColor": "#000000", "tickWidth": 1, "tickSize": -4, "labelPadding": 13, "labelFontSize": 13, "labelColor": "#000000"}},
"y": {"field": "dd", "type": "quantitative", "scale": {"domain": [-0.1, 0]},
 "axis": {"orient": "right", "title": null, "values": [0, -0.02, -0.04, -0.06, -0.08, -0.1],
  "labelExpr": "(datum.value < -0.0001 ? '-' : '') + format(abs(datum.value), '.0%')",
  "domainColor": "#000000", "domainWidth": 1.2, "tickColor": "#000000", "tickWidth": 1, "tickSize": -4, "labelPadding": 15.7, "labelFontSize": 14.5, "labelColor": "#000000"}},
"color": {"datum": "回撤(右轴)", "type": "nominal", "scale": {"range": ["#F5C242"]},
 "legend": {"orient": "none", "legendX": 17, "legendY": 245, "title": null, "symbolType": "M-1,-0.3H1V0.3H-1Z", "symbolSize": 324, "symbolStrokeWidth": 0, "labelFontSize": 13, "labelFont": "Liberation Serif, Noto Sans CJK SC", "labelColor": "#000000", "labelOffset": 3, "padding": 7}}
}
},
{
"data": {"name": "nav"},
"layer": [
{
"mark": {"type": "line", "strokeWidth": 2},
"encoding": {
"x": {"field": "d", "type": "temporal"},
"y": {"field": "sh", "type": "quantitative", "scale": {"domain": [0, 16]},
 "axis": {"orient": "left", "title": null, "values": [0, 2, 4, 6, 8, 10, 12, 14, 16], "format": "d",
  "domainColor": "#000000", "domainWidth": 1.2, "tickColor": "#000000", "tickWidth": 1, "tickSize": -3, "labelPadding": 12.7, "labelFontSize": 14.5, "labelColor": "#000000"}},
"stroke": {"datum": "空头净值", "type": "nominal",
 "scale": {"domain": ["多空净值", "多头净值", "空头净值"], "range": ["#E53B30", "#1B2B8C", "#C8C8C8"]},
 "legend": {"orient": "none", "legendX": 109, "legendY": 245, "direction": "horizontal", "columnPadding": 4, "title": null, "symbolType": "stroke", "symbolSize": 324, "symbolStrokeWidth": 2, "labelFontSize": 13, "labelFont": "Liberation Serif, Noto Sans CJK SC", "labelColor": "#000000", "labelOffset": 4, "padding": 7}}
}
},
{
"mark": {"type": "line", "strokeWidth": 2},
"encoding": {
"x": {"field": "d", "type": "temporal"},
"y": {"field": "lo", "type": "quantitative", "scale": {"domain": [0, 16]},
 "axis": {"orient": "left", "title": null, "values": [0, 2, 4, 6, 8, 10, 12, 14, 16], "format": "d",
  "domainColor": "#000000", "domainWidth": 1.2, "tickColor": "#000000", "tickWidth": 1, "tickSize": -3, "labelPadding": 12.7, "labelFontSize": 14.5, "labelColor": "#000000"}},
"stroke": {"datum": "多头净值", "type": "nominal"}
}
},
{
"mark": {"type": "line", "strokeWidth": 1.8},
"encoding": {
"x": {"field": "d", "type": "temporal"},
"y": {"field": "ls", "type": "quantitative", "scale": {"domain": [0, 16]},
 "axis": {"orient": "left", "title": null, "values": [0, 2, 4, 6, 8, 10, 12, 14, 16], "format": "d",
  "domainColor": "#000000", "domainWidth": 1.2, "tickColor": "#000000", "tickWidth": 1, "tickSize": -3, "labelPadding": 12.7, "labelFontSize": 14.5, "labelColor": "#000000"}},
"stroke": {"datum": "多空净值", "type": "nominal"}
}
}
]
}
],
"resolve": {"scale": {"y": "independent"}}
},
{
"width": 490, "height": 43,
"title": {"text": ["资料来源：上交所、深交所行情数据，Wind，聚源，兴业证", "券经济与金融研究院整理"], "orient": "bottom", "anchor": "start", "frame": "group", "dx": 12, "offset": 4, "fontSize": 17.5, "fontWeight": "normal", "lineHeight": 29, "baseline": "top", "font": "Liberation Serif, Noto Sans CJK SC", "color": "#000000"},
"data": {"values": [{}]},
"mark": {"type": "rule", "color": "#808080", "strokeWidth": 2},
"encoding": {
"x": {"datum": 0, "type": "quantitative", "scale": {"domain": [0, 490]}, "axis": null},
"x2": {"datum": 505},
"y": {"datum": 0, "type": "quantitative", "scale": {"domain": [0, 1]}, "axis": null}}
}
]
}
]
}
